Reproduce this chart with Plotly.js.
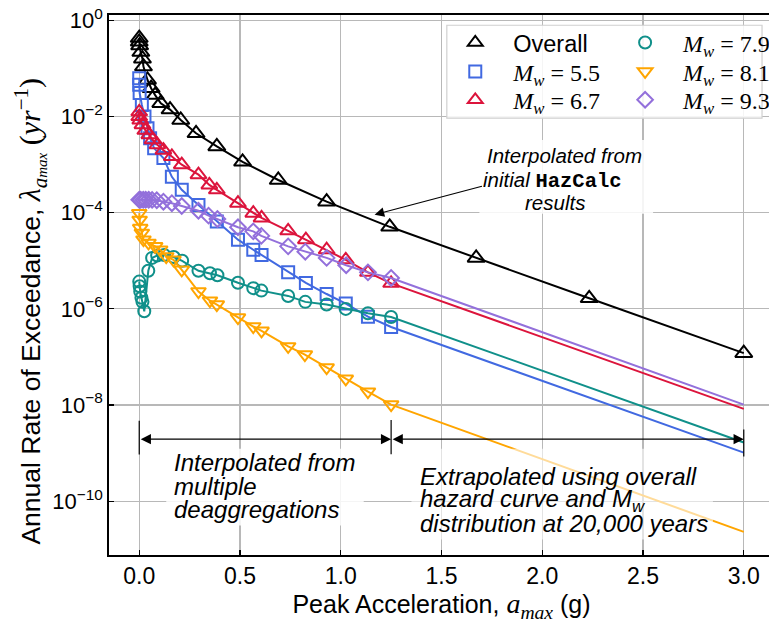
<!DOCTYPE html>
<html>
<head>
<meta charset="utf-8">
<script src="https://cdn.plot.ly/plotly-3.0.1.min.js"></script>
<style>html,body{margin:0;padding:0;overflow:hidden;background:#fff}</style>
</head>
<body>
<div id="chart"></div>
<script>
// ---- data ----
const overallX = [0.0, 0.0, 0.002, 0.008, 0.016, 0.021, 0.041, 0.059, 0.079, 0.107, 0.153, 0.206, 0.282, 0.385, 0.513, 0.69, 0.93, 1.243, 1.672, 2.233, 3.0];
const overallY = [0.43, 0.36, 0.30, 0.22, 0.16, 0.11, 0.058, 0.039, 0.028, 0.019, 0.014, 8.5e-3, 4.5e-3, 2.4e-3, 1.15e-3, 4.8e-4, 1.7e-4, 5.1e-5, 1.15e-5, 1.66e-6, 1.2e-7];

const m55X = [0.0, 0.0, 0.002, 0.013, 0.026, 0.041, 0.054, 0.074, 0.12, 0.162, 0.211, 0.294, 0.385, 0.49, 0.566, 0.607, 0.739, 0.827, 0.93, 1.025, 1.135, 1.25, 3.0];
const m55Y = [0.063, 0.046, 0.031, 0.0174, 0.010, 5.75e-3, 3.55e-3, 2.19e-3, 1.38e-3, 5.6e-4, 3.0e-4, 1.45e-4, 6.6e-5, 2.75e-5, 1.7e-5, 1.32e-5, 5.75e-6, 3.47e-6, 2.04e-6, 1.29e-6, 6.9e-7, 4.2e-7, 1.02e-9];

const m67X = [0.0, 0.0, 0.005, 0.016, 0.03, 0.05, 0.066, 0.09, 0.12, 0.162, 0.211, 0.294, 0.348, 0.385, 0.49, 0.566, 0.607, 0.739, 0.827, 0.93, 1.025, 1.135, 1.25, 3.0];
const m67Y = [0.0126, 0.010, 8.5e-3, 6.8e-3, 5.2e-3, 4.2e-3, 3.3e-3, 2.6e-3, 2.0e-3, 1.48e-3, 1.0e-3, 6.2e-4, 3.8e-4, 3.0e-4, 1.58e-4, 9.8e-5, 7.8e-5, 4.2e-5, 2.75e-5, 1.7e-5, 1.05e-5, 5.75e-6, 3.4e-6, 8.3e-9];

const m79X = [0.0, 0.002, 0.005, 0.011, 0.016, 0.025, 0.045, 0.064, 0.089, 0.124, 0.171, 0.213, 0.294, 0.351, 0.388, 0.49, 0.566, 0.606, 0.739, 0.824, 0.93, 1.025, 1.135, 1.25, 3.0];
const m79Y = [3.7e-6, 2.95e-6, 2.3e-6, 1.7e-6, 1.4e-6, 8.9e-7, 6.2e-6, 1.15e-5, 1.29e-5, 1.32e-5, 1.2e-5, 1.0e-5, 6.2e-6, 5.5e-6, 5.0e-6, 3.5e-6, 2.7e-6, 2.4e-6, 1.86e-6, 1.4e-6, 1.23e-6, 1.0e-6, 8.1e-7, 6.8e-7, 1.66e-9];

const m81X = [0.0, 0.002, 0.005, 0.013, 0.021, 0.046, 0.079, 0.104, 0.134, 0.17, 0.211, 0.294, 0.351, 0.385, 0.49, 0.566, 0.607, 0.739, 0.822, 0.93, 1.025, 1.135, 1.25, 3.0];
const m81Y = [9.8e-5, 7.1e-5, 4.8e-5, 3.8e-5, 2.75e-5, 2.35e-5, 2.0e-5, 1.7e-5, 1.23e-5, 1.05e-5, 6.5e-6, 2.3e-6, 1.48e-6, 1.23e-6, 6.6e-7, 4.3e-7, 3.5e-7, 1.66e-7, 1.12e-7, 6.0e-8, 3.5e-8, 1.9e-8, 1.02e-8, 2.3e-11];

const m93X = [0.0, 0.007, 0.02, 0.032, 0.047, 0.064, 0.087, 0.12, 0.162, 0.211, 0.294, 0.344, 0.388, 0.49, 0.566, 0.606, 0.739, 0.824, 0.93, 1.027, 1.135, 1.25, 3.0];
const m93Y = [1.87e-4, 1.87e-4, 1.86e-4, 1.86e-4, 1.86e-4, 1.85e-4, 1.82e-4, 1.7e-4, 1.58e-4, 1.38e-4, 1.1e-4, 8.7e-5, 7.4e-5, 5.0e-5, 4.1e-5, 3.3e-5, 2.0e-5, 1.55e-5, 1.15e-5, 8.1e-6, 5.75e-6, 4.4e-6, 1.02e-8];

const xTickVals = [0.0, 0.5, 1.0, 1.5, 2.0, 2.5, 3.0];
const xTickText = ['0.0', '0.5', '1.0', '1.5', '2.0', '2.5', '3.0'];
const yTickVals = [1, 1e-2, 1e-4, 1e-6, 1e-8, 1e-10];
const yTickText = ['10<sup>0</sup>', '10<sup>\u22122</sup>', '10<sup>\u22124</sup>', '10<sup>\u22126</sup>', '10<sup>\u22128</sup>', '10<sup>\u221210</sup>'];

// ---- styling ----
const SANS = "'Liberation Sans', Arial, sans-serif";
const mw = v => "<span style=\"font-family:Liberation Serif;font-size:24px\"><i>M</i><sub><i>w</i></sub> = " + v + "</span>";

const series = [
  {name: 'Overall', x: overallX, y: overallY, color: '#000000', symbol: 'triangle-up-open', size: 15, extrap: false, leg: 'legend'},
  {name: mw('5.5'), x: m55X, y: m55Y, color: '#4169E1', symbol: 'square-open', size: 12, extrap: true, leg: 'legend2'},
  {name: mw('6.7'), x: m67X, y: m67Y, color: '#DC143C', symbol: 'triangle-up-open', size: 14, extrap: true, leg: 'legend3'},
  {name: mw('7.9'), x: m79X, y: m79Y, color: '#10908A', symbol: 'circle-open', size: 12, extrap: true, leg: 'legend4'},
  {name: mw('8.1'), x: m81X, y: m81Y, color: '#FFA500', symbol: 'triangle-down-open', size: 13, extrap: true, leg: 'legend5'},
  {name: mw('9.3'), x: m93X, y: m93Y, color: '#9370DB', symbol: 'diamond-open', size: 12, extrap: true, leg: 'legend6'}
];

const traces = [];
series.forEach(s => {
  const n = s.x.length;
  const op = s.x.map((_, i) => (s.extrap && i === n - 1) ? 0 : 1);
  traces.push({
    type: 'scatter', mode: 'lines+markers', x: s.x, y: s.y,
    line: {color: s.color, width: 2},
    marker: {symbol: s.symbol, size: s.size, color: s.color, opacity: op, line: {color: s.color, width: 2}},
    showlegend: false, hoverinfo: 'skip'
  });
});
// legend-only entries (markers without line)
series.forEach(s => {
  traces.push({
    type: 'scatter', mode: 'markers', x: [-10], y: [1e3], name: s.name, legend: s.leg,
    marker: {symbol: s.symbol, size: Math.min(s.size, 13), color: s.color, line: {color: s.color, width: 2}},
    hoverinfo: 'skip'
  });
});

const W = 780, H = 623;
const L = 108.5, R = W - 775, T = 15, B = H - 555;

function leg(x, y) {
  return {x: x, y: y, xanchor: 'left', yanchor: 'middle', orientation: 'v', itemwidth: 66,
          bgcolor: 'rgba(0,0,0,0)', borderwidth: 0, font: {family: SANS, size: 23.5, color: '#000'}};
}
const c1 = 0.4929, c2 = 0.7479, r1 = 0.9487, r2 = 0.895, r3 = 0.8426;

function txt(x, y, t, size, anchor) {
  return {xref: 'x', yref: 'y', x: x, y: y, xanchor: anchor, yanchor: 'middle', align: anchor === 'left' ? 'left' : 'center',
    text: t, showarrow: false, font: {family: SANS, size: size, style: 'italic', color: '#000'}};
}
function box(x0, x1, y0, y1, alpha) {
  return {type: 'rect', xref: 'x', yref: 'y', x0: x0, x1: x1, y0: y0, y1: y1,
    fillcolor: 'rgba(255,255,255,' + alpha + ')', line: {width: 0}, layer: 'above'};
}

const layout = {
  width: W, height: H,
  margin: {l: L, r: R, t: T, b: B, pad: 0},
  paper_bgcolor: '#ffffff', plot_bgcolor: '#ffffff',
  font: {family: SANS, size: 20, color: '#000'},
  xaxis: {
    range: [-0.15, 3.15], tickmode: 'array', tickvals: xTickVals, ticktext: xTickText,
    ticks: 'inside', ticklen: 5, tickwidth: 1.2, tickcolor: '#000',
    showgrid: true, gridcolor: '#b8b8b8', gridwidth: 1.2, zeroline: false,
    showline: true, linecolor: '#000', linewidth: 1.8, mirror: true,
    tickfont: {family: SANS, size: 23},
    title: {text: "Peak Acceleration, <span style=\"font-family:Liberation Serif;font-size:28px\"><i>a</i><sub><i>max</i></sub></span> (g)", font: {family: SANS, size: 25}, standoff: 4}
  },
  yaxis: {
    type: 'log', range: [-11.12, 0.114], tickmode: 'array', tickvals: yTickVals, ticktext: yTickText,
    ticks: 'inside', ticklen: 5, tickwidth: 1.2, tickcolor: '#000',
    showgrid: true, gridcolor: '#b8b8b8', gridwidth: 1.2, zeroline: false,
    showline: true, linecolor: '#000', linewidth: 1.8, mirror: true,
    tickfont: {family: SANS, size: 22}
  },
  legend: leg(c1, r1), legend2: leg(c1, r2), legend3: leg(c1, r3),
  legend4: leg(c2, r1), legend5: leg(c2, r2), legend6: leg(c2, r3),
  shapes: [
    {type: 'rect', xref: 'paper', yref: 'paper', x0: 0.508, x1: 0.982, y0: 0.809, y1: 0.981,
     fillcolor: 'rgba(255,255,255,0.85)', line: {color: '#d0d0d0', width: 1.2}, layer: 'above'},
    box(1.688, 2.55, 9.5e-5, 3.27e-3, 0.85),
    box(0.134, 1.114, 3.1e-11, 1.23e-9, 0.85),
    box(1.351, 2.847, 1.6e-11, 1.23e-9, 0.6),
    {type: 'line', xref: 'x', yref: 'y', x0: 0, x1: 0, y0: 4.7e-9, y1: 9.3e-10, line: {color: '#000', width: 1.2}},
    {type: 'line', xref: 'x', yref: 'y', x0: 1.25, x1: 1.25, y0: 4.9e-9, y1: 9.5e-10, line: {color: '#000', width: 1.2}},
    {type: 'line', xref: 'x', yref: 'y', x0: 3.0, x1: 3.0, y0: 3.1e-9, y1: 8.5e-10, line: {color: '#000', width: 1.2}}
  ],
  annotations: [
    {xref: 'paper', yref: 'paper', x: -0.1178, y: 0.452, xanchor: 'center', yanchor: 'middle', textangle: -90, showarrow: false,
     text: "Annual Rate of Exceedance, <span style=\"font-family:Liberation Serif;font-size:30px\"><i>\u03bb</i><sub><i>a</i><span style=\"font-size:15px\"><i>max</i></span></sub> (<i>yr</i><sup>\u22121</sup>)</span>",
     font: {family: SANS, size: 26.5, color: '#000'}},
    txt(2.109, -2.80, "Interpolated from", 20.5, 'center'),
    txt(2.050, -3.32, "initial <span style=\"font-family:Liberation Mono;font-style:normal\"><b>HazCalc</b></span>", 20.5, 'center'),
    txt(2.064, -3.79, "results", 20.5, 'center'),
    {xref: 'x', yref: 'y', axref: 'x', ayref: 'y', x: 1.168, y: -4.04, ax: 1.708, ay: -3.44, text: '',
     showarrow: true, arrowhead: 2, arrowsize: 1.6, arrowwidth: 1.2, arrowcolor: '#000', standoff: 0, startstandoff: 0},
    {xref: 'x', yref: 'y', axref: 'x', ayref: 'y', x: 1.25, y: -8.71, ax: 0.0, ay: -8.71, text: '',
     showarrow: true, arrowside: 'end+start', arrowhead: 2, startarrowhead: 2, arrowsize: 1.7, startarrowsize: 1.7, arrowwidth: 1.2, arrowcolor: '#000'},
    {xref: 'x', yref: 'y', axref: 'x', ayref: 'y', x: 3.0, y: -8.71, ax: 1.25, ay: -8.71, text: '',
     showarrow: true, arrowside: 'end+start', arrowhead: 2, startarrowhead: 2, arrowsize: 1.7, startarrowsize: 1.7, arrowwidth: 1.2, arrowcolor: '#000'},
    txt(0.163, -9.20, "Interpolated from", 24, 'left'),
    txt(0.163, -9.70, "multiple", 24, 'left'),
    txt(0.163, -10.18, "deaggregations", 24, 'left'),
    txt(1.381, -9.49, "Extrapolated using overall", 24, 'left'),
    txt(1.381, -9.99, "hazard curve and M<sub>w</sub>", 24, 'left'),
    txt(1.381, -10.47, "distribution at 20,000 years", 24, 'left')
  ]
};

Plotly.newPlot('chart', traces, layout, {staticPlot: true, displayModeBar: false});
</script>
</body>
</html>
